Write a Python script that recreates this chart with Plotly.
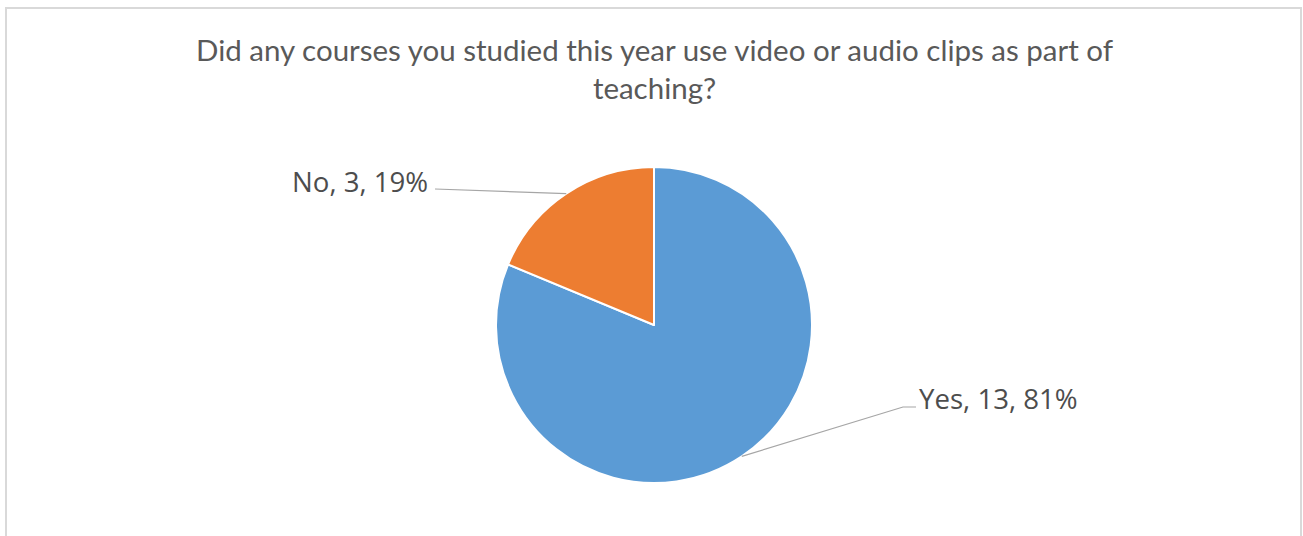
import math
import plotly.graph_objects as go

# Survey answers
categories = ["Yes", "No"]
counts = [13, 3]
colors = ["#5B9BD5", "#ED7D31"]

title_text = "Did any courses you studied this year use video or audio clips as part of<br>teaching?"

W, H = 1303, 536
cx, cy, r = 654, 325, 158  # pie centre and radius in pixels

total = sum(counts)
pcts = [round(100 * c / total) for c in counts]

fig = go.Figure()
fig.add_trace(go.Pie(
    labels=categories, values=counts, sort=False, direction="clockwise",
    rotation=0, textinfo="none", hoverinfo="label+value+percent",
    marker=dict(colors=colors, line=dict(color="white", width=2)),
    domain=dict(x=[(cx - r) / W, (cx + r) / W], y=[(H - cy - r) / H, (H - cy + r) / H]),
    showlegend=False,
))

# Invisible pixel-space axes for leader lines and labels
fig.update_xaxes(range=[0, W], visible=False, fixedrange=True)
fig.update_yaxes(range=[H, 0], visible=False, fixedrange=True)

# label anchor positions (x, y, side) for each slice
label_pos = {"Yes": (917, 398, "left", [(903, 407), (916, 407)]),
             "No": (430, 181, "right", [(435, 189)])}

shapes = []
annotations = []
cum = 0
for cat, cnt, pct in zip(categories, counts, pcts):
    mid = (cum + cnt / 2) / total * 360
    cum += cnt
    ang = math.radians(90 - mid)
    px, py = cx + r * math.cos(ang), cy - r * math.sin(ang)
    lx, ly, side, pts = label_pos[cat]
    path = f"M{px:.1f},{py:.1f}" + "".join(f" L{x},{y}" for x, y in pts)
    shapes.append(dict(type="path", path=path, xref="x", yref="y",
                       line=dict(color="#A6A6A6", width=1.2)))
    annotations.append(dict(x=lx, y=ly, xref="x", yref="y", showarrow=False,
                            text=f"{cat}, {cnt}, {pct}%", xanchor=side, yanchor="middle",
                            font=dict(family="Open Sans", size=27.6, color="#4D4D4D")))

annotations.append(dict(x=655, y=68, xref="x", yref="y", showarrow=False,
                        text=title_text, xanchor="center", yanchor="middle",
                        font=dict(family="Lato", size=29.5, color="#595959")))

# chart-area border
shapes.append(dict(type="rect", x0=6, y0=8, x1=1301, y1=560, xref="x", yref="y",
                   line=dict(color="#D9D9D9", width=2), layer="below"))

fig.update_layout(
    width=W, height=H, margin=dict(l=0, r=0, t=0, b=0),
    paper_bgcolor="white", plot_bgcolor="white",
    shapes=shapes, annotations=annotations,
)

fig.write_html("out.html")
